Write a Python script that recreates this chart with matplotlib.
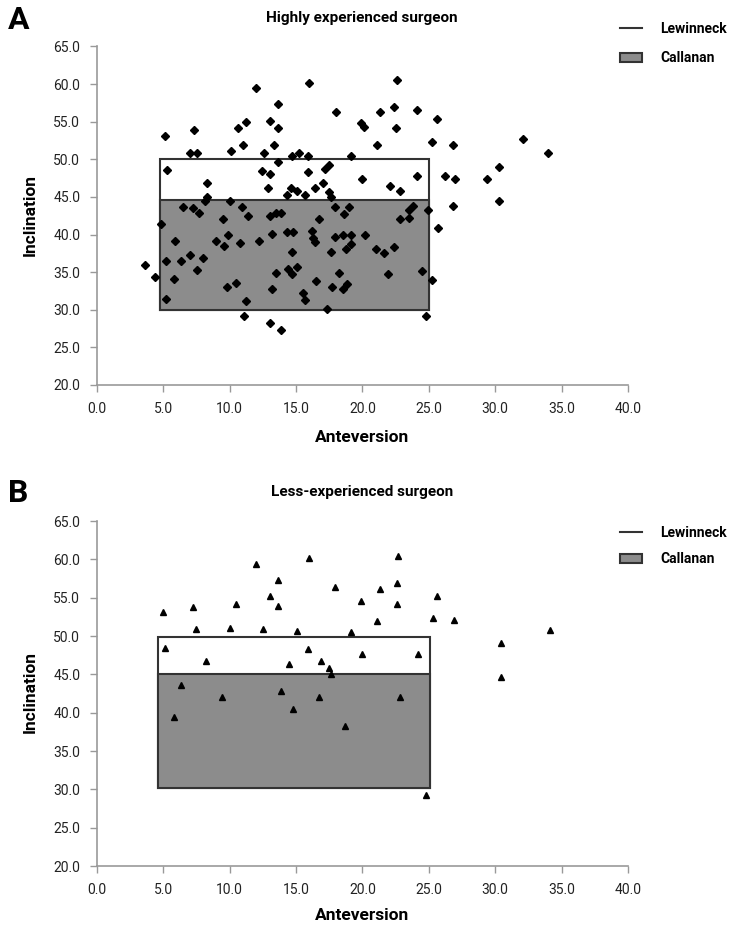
import matplotlib.pyplot as plt
from matplotlib.lines import Line2D
from matplotlib.patches import Patch, Rectangle

plt.rcParams['font.family'] = ['Roboto', 'Liberation Sans', 'DejaVu Sans']

# highly experienced surgeon: (anteversion, inclination)
hi_x = [12.0, 13.0, 11.2, 10.6, 5.1, 7.3, 11.0, 7.0, 7.5, 10.1, 12.6, 5.25, 8.3, 8.3,
        12.4, 13.0, 12.9, 16.0, 22.6, 13.6, 13.6, 18.0, 21.3, 22.4, 24.1, 25.6, 19.9,
        20.1, 22.5, 13.3, 21.1, 25.2, 14.7, 15.2, 15.9, 19.1, 13.6, 15.9, 17.2, 17.5,
        20.0, 24.1, 14.6, 15.1, 15.7, 14.3, 16.4, 17.0, 17.5, 22.1, 22.8, 26.8, 32.1,
        34.0, 30.3, 26.2, 27.0, 29.4, 26.8, 30.3, 24.9, 25.7, 24.5, 25.25, 24.75, 8.1,
        10.0, 6.5, 7.2, 7.7, 10.9, 11.4, 13.0, 4.85, 9.5, 5.9, 9.9, 9.0, 9.6, 10.8,
        12.2, 3.6, 5.2, 6.3, 7.0, 8.0, 7.5, 4.4, 5.8, 9.8, 10.5, 5.2, 11.2, 11.1, 13.0,
        17.6, 17.9, 19.0, 18.6, 23.8, 23.5, 23.5, 22.8, 13.5, 13.9, 16.7, 13.2, 14.3,
        14.8, 16.2, 16.3, 16.4, 17.9, 18.5, 19.1, 19.1, 18.75, 20.2, 14.7, 17.6, 21.0,
        21.6, 22.4, 13.5, 14.4, 14.7, 15.1, 18.2, 21.9, 16.5, 13.2, 17.7, 18.5, 18.8,
        15.5, 15.7, 17.3, 13.9]
hi_y = [59.5, 55.1, 54.9, 54.1, 53.1, 53.9, 51.9, 50.9, 50.9, 51.1, 50.9, 48.6, 46.8, 45.0,
        48.4, 48.1, 46.2, 60.2, 60.5, 57.3, 54.1, 56.3, 56.3, 56.9, 56.5, 55.3, 54.8,
        54.3, 54.1, 51.9, 51.9, 52.3, 50.4, 50.8, 50.4, 50.5, 49.6, 48.3, 48.7, 49.3,
        47.4, 47.8, 46.2, 45.8, 45.3, 45.2, 46.2, 46.8, 45.6, 46.4, 45.8, 51.9, 52.7,
        50.9, 49.0, 47.8, 47.4, 47.4, 43.8, 44.4, 43.2, 40.9, 35.2, 34.0, 29.2, 44.4,
        44.4, 43.6, 43.5, 42.8, 43.6, 42.5, 42.5, 41.4, 42.0, 39.2, 39.9, 39.2, 38.5, 38.9,
        39.1, 35.9, 36.5, 36.5, 37.3, 36.9, 35.3, 34.35, 34.1, 33.0, 33.5, 31.4, 31.2, 29.2, 28.2,
        45.0, 43.6, 43.6, 42.7, 43.8, 43.2, 42.2, 42.1, 42.9, 42.8, 42.0, 40.1, 40.3,
        40.3, 40.5, 39.6, 39.0, 39.7, 40.0, 39.9, 38.7, 38.1, 39.9, 37.7, 37.7, 38.1,
        37.5, 38.3, 34.9, 35.4, 34.7, 35.7, 34.9, 34.7, 33.8, 32.75, 33.0, 32.7, 33.4,
        32.2, 31.3, 30.05, 27.3]

# less-experienced surgeon
lo_x = [12.0, 13.6, 13.0, 13.6, 5.0, 7.25, 10.5, 7.45, 10.0, 12.5, 5.1, 8.2, 14.5, 16.0,
        22.7, 17.9, 22.6, 21.3, 19.9, 22.6, 25.65, 21.1, 25.3, 26.9, 15.1, 19.1, 15.9,
        20.0, 24.2, 16.9, 17.5, 17.6, 6.3, 9.4, 13.85, 16.7, 22.8, 14.8, 5.8, 18.7, 24.8,
        34.1, 30.4, 30.4]
lo_y = [59.45, 57.3, 55.2, 53.9, 53.2, 53.8, 54.2, 50.9, 51.05, 50.9, 48.5, 46.8, 46.4, 60.2,
        60.45, 56.4, 56.9, 56.1, 54.6, 54.2, 55.2, 51.9, 52.3, 52.05, 50.7, 50.5, 48.3,
        47.6, 47.7, 46.8, 45.8, 45.0, 43.6, 42.05, 42.85, 42.05, 42.05, 40.5, 39.5, 38.3, 29.3,
        50.85, 49.05, 44.6]

# safe zones as drawn: anteversion from-to, inclination from / Callanan top / Lewinneck top
hi_zone = [4.75, 25.0, 30.0, 44.6, 50.1]
lo_zone = [4.6, 25.05, 30.2, 45.1, 49.9]

x_ticks = [0, 5, 10, 15, 20, 25, 30, 35, 40]
y_ticks = [20, 25, 30, 35, 40, 45, 50, 55, 60, 65]

GRAY = '#8c8c8c'
EDGE = '#333333'

fig = plt.figure(figsize=(7.5, 9.39), dpi=100)
ax_a = fig.add_axes([0.1293, 0.590, 0.708, 0.3605])
ax_b = fig.add_axes([0.1293, 0.0777, 0.708, 0.3674])


def draw_panel(ax, xs, ys, zone, marker, msize):
    x0, x1, y0, y_cal, y_lew = zone
    ax.add_patch(Rectangle((x0, y0), x1 - x0, y_lew - y0, facecolor='white',
                           edgecolor=EDGE, linewidth=1.5, zorder=1))
    ax.add_patch(Rectangle((x0, y0), x1 - x0, y_cal - y0, facecolor=GRAY,
                           edgecolor=EDGE, linewidth=1.5, zorder=2))
    ax.plot(xs, ys, linestyle='none', marker=marker, markersize=msize,
            color='black', zorder=3)
    ax.set_xlim(0, 40)
    ax.set_ylim(20, 65)
    ax.set_xticks(x_ticks)
    ax.set_yticks(y_ticks)
    ax.set_xticklabels([f'{v:.1f}' for v in x_ticks])
    ax.set_yticklabels([f'{v:.1f}' for v in y_ticks])
    for side in ('top', 'right'):
        ax.spines[side].set_visible(False)
    for side in ('left', 'bottom'):
        ax.spines[side].set_color('#999999')
        ax.spines[side].set_linewidth(1.2)
    ax.tick_params(direction='out', length=5, width=1.0, color='#999999',
                   labelsize=10, labelcolor='#222222', pad=7)
    handles = [Line2D([], [], color=EDGE, linewidth=1.5),
               Patch(facecolor=GRAY, edgecolor=EDGE, linewidth=1.5)]
    return handles


h = draw_panel(ax_a, hi_x, hi_y, hi_zone, 'D', 3.6)
ax_a.legend(h, ['Lewinneck', 'Callanan'], loc='upper left',
            bbox_to_anchor=(0.827, 0.9766), bbox_transform=fig.transFigure,
            frameon=False, borderpad=0, borderaxespad=0, handlelength=1.6,
            handletextpad=1.3, labelspacing=1.1, prop={'weight': 'bold', 'size': 10})

h = draw_panel(ax_b, lo_x, lo_y, lo_zone, '^', 4.6)
ax_b.legend(h, ['Lewinneck', 'Callanan'], loc='upper left',
            bbox_to_anchor=(0.827, 0.440), bbox_transform=fig.transFigure,
            frameon=False, borderpad=0, borderaxespad=0, handlelength=1.6,
            handletextpad=1.3, labelspacing=0.9, prop={'weight': 'bold', 'size': 10})

fig.text(0.483, 0.981, 'Highly experienced surgeon', ha='center', va='center',
         fontsize=11, fontweight='bold')
fig.text(0.483, 0.476, 'Less-experienced surgeon', ha='center', va='center',
         fontsize=11, fontweight='bold')
fig.text(0.010, 0.979, 'A', ha='left', va='center', fontsize=23, fontweight='bold')
fig.text(0.010, 0.475, 'B', ha='left', va='center', fontsize=23, fontweight='bold')
fig.text(0.04, 1 - 215 / 939, 'Inclination', ha='center', va='center', rotation=90,
         fontsize=12.5, fontweight='bold')
fig.text(0.04, 1 - 692 / 939, 'Inclination', ha='center', va='center', rotation=90,
         fontsize=12.5, fontweight='bold')
fig.text(0.483, 1 - 437 / 939, 'Anteversion', ha='center', va='center',
         fontsize=12.5, fontweight='bold')
fig.text(0.483, 1 - 915 / 939, 'Anteversion', ha='center', va='center',
         fontsize=12.5, fontweight='bold')

fig.savefig('out.png', dpi=100)
